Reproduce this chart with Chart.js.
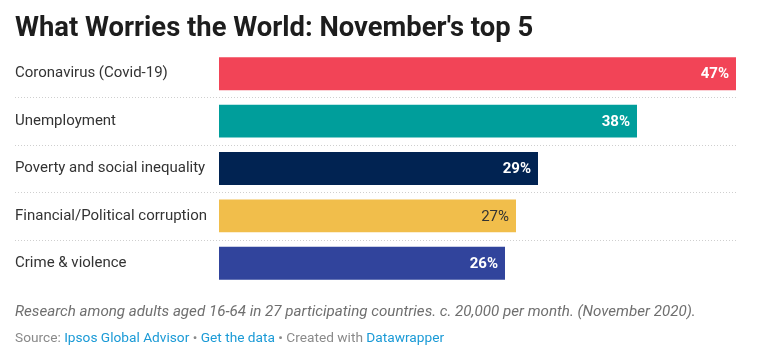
<!DOCTYPE html>
<html>
<head>
<meta charset="utf-8">
<script src="https://cdn.jsdelivr.net/npm/chart.js@4"></script>
<style>
  body { margin: 0; background: #fff; font-family: Roboto, sans-serif; }
  #wrap { position: relative; width: 768px; height: 359px; overflow: hidden; }
  #chart { position: absolute; left: 0; top: 0; }
  .title { position: absolute; left: 15px; top: 11px; font-size: 27.4px; font-weight: 700; color: #1d1d1d; white-space: nowrap; }
  .note { position: absolute; left: 15px; top: 302px; font-size: 15.15px; font-style: italic; color: #6f6f6f; white-space: nowrap; }
  .source { position: absolute; left: 15px; top: 329px; font-size: 13.7px; color: #8a8a8a; white-space: nowrap; }
  .source a { color: #1a9ad6; text-decoration: none; }
</style>
</head>
<body>
<div id="wrap">
  <canvas id="chart" width="768" height="359"></canvas>
  <div class="title">What Worries the World: November's top 5</div>
  <div class="note">Research among adults aged 16-64 in 27 participating countries. c. 20,000 per month. (November 2020).</div>
  <div class="source">Source: <a>Ipsos Global Advisor</a> • <a>Get the data</a> • Created with <a>Datawrapper</a></div>
</div>
<script>
// data
const worries = ["Coronavirus (Covid-19)", "Unemployment", "Poverty and social inequality", "Financial/Political corruption", "Crime & violence"];
const shares = [47, 38, 29, 27, 26];
const barColors = ["#f24457", "#009e9b", "#012352", "#f1be4b", "#31449c"];
const labelColors = ["#ffffff", "#ffffff", "#ffffff", "#333333", "#ffffff"];
const labelWeights = ["bold", "bold", "bold", "normal", "bold"];

// dotted separator lines between rows, full width
const rowLines = {
  id: "rowLines",
  beforeDatasetsDraw(chart) {
    const ctx = chart.ctx;
    const y = chart.scales.y;
    ctx.save();
    ctx.strokeStyle = "#cfcfcf";
    ctx.lineWidth = 1;
    ctx.setLineDash([1, 2]);
    for (let i = 0; i < worries.length - 1; i++) {
      const py = Math.round((y.getPixelForTick(i) + y.getPixelForTick(i + 1)) / 2) + 0.5;
      ctx.beginPath();
      ctx.moveTo(15, py);
      ctx.lineTo(chart.chartArea.right, py);
      ctx.stroke();
    }
    ctx.restore();
  }
};

// percentage labels inside bar ends
const valueLabels = {
  id: "valueLabels",
  afterDatasetsDraw(chart) {
    const ctx = chart.ctx;
    const meta = chart.getDatasetMeta(0);
    ctx.save();
    ctx.textAlign = "right";
    ctx.textBaseline = "middle";
    meta.data.forEach((bar, i) => {
      ctx.font = labelWeights[i] + " 15px Roboto";
      ctx.fillStyle = labelColors[i];
      ctx.fillText(shares[i] + "%", bar.x - 7, bar.y + 1);
    });
    ctx.restore();
  }
};

new Chart(document.getElementById("chart"), {
  type: "bar",
  data: {
    labels: worries,
    datasets: [{
      data: shares,
      backgroundColor: barColors,
      borderWidth: 0,
      categoryPercentage: 1,
      barPercentage: 0.695
    }]
  },
  options: {
    indexAxis: "y",
    responsive: false,
    animation: false,
    layout: { padding: { left: 15, right: 32, top: 50, bottom: 72 } },
    plugins: { legend: { display: false }, tooltip: { enabled: false } },
    scales: {
      x: { display: false, min: 0, max: 47 },
      y: {
        grid: { display: false },
        border: { display: false },
        afterFit: (scale) => { scale.width = 204; },
        ticks: {
          crossAlign: "far",
          color: "#333333",
          font: { family: "Roboto", size: 15 }
        }
      }
    }
  },
  plugins: [rowLines, valueLabels]
});
</script>
</body>
</html>
